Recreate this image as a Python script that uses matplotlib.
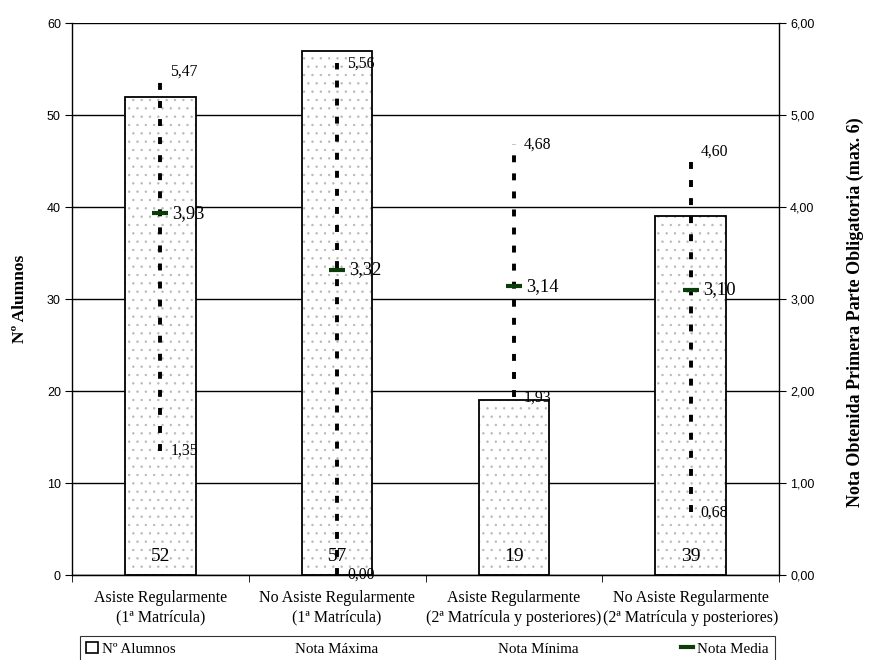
import matplotlib
matplotlib.use("Agg")
import matplotlib.pyplot as plt
from matplotlib.patches import Patch
from matplotlib.lines import Line2D
from matplotlib.ticker import FuncFormatter, FixedLocator

categories = ["Asiste Regularmente\n(1ª Matrícula)",
              "No Asiste Regularmente\n(1ª Matrícula)",
              "Asiste Regularmente\n(2ª Matrícula y posteriores)",
              "No Asiste Regularmente\n(2ª Matrícula y posteriores)"]
alumnos = [52, 57, 19, 39]
nota_max = [5.47, 5.56, 4.68, 4.60]
nota_min = [1.35, 0.00, 1.93, 0.68]
nota_media = [3.93, 3.32, 3.14, 3.10]

SERIF = ["Liberation Serif", "DejaVu Serif"]
SANS = ["Liberation Sans", "DejaVu Sans"]
plt.rcParams["font.family"] = SERIF
plt.rcParams["hatch.color"] = "#b3b3b3"
plt.rcParams["hatch.linewidth"] = 0.5
plt.rcParams["lines.scale_dashes"] = False

def comma(v, nd):
    return f"{v:.{nd}f}".replace(".", ",")

fig = plt.figure(figsize=(8.75, 6.6), dpi=100)
ax = fig.add_axes([72/875, 1-575/660, (779-72)/875, (575-23)/660])
ax2 = ax.twinx()

x = list(range(len(categories)))
ax.set_xlim(-0.5, len(categories) - 0.5)
ax.set_ylim(0, 60)
ax2.set_ylim(0, 6)

ax.set_yticks(range(0, 61, 10))
ax.yaxis.grid(True, color="black", linewidth=1.0)
ax.set_axisbelow(True)
# hatched fill (grey dots) + black outline
ax.bar(x, alumnos, width=0.4, color="white", edgecolor="#b8b8b8", linewidth=0,
       hatch="..", zorder=2)
ax.bar(x, alumnos, width=0.4, fill=False, edgecolor="black", linewidth=1.3,
       zorder=2.1)
for xi, n in zip(x, alumnos):
    ax.text(xi, 2.0, str(n), ha="center", va="center", fontsize=14, zorder=5)

# min-max dashed lines and labels (right axis)
for xi, hi, lo in zip(x, nota_max, nota_min):
    ax2.plot([xi, xi], [lo, hi], color="black", linewidth=2.8,
             linestyle=(0, (5.0, 8.0)), dash_capstyle="butt", zorder=3)
    ax2.annotate(comma(hi, 2), (xi, hi), xytext=(10, 0), textcoords="offset pixels",
                 ha="left", va="center", fontsize=11.3, zorder=5)
    ax2.annotate(comma(lo, 2), (xi, lo), xytext=(10, 0), textcoords="offset pixels",
                 ha="left", va="center", fontsize=11.3, zorder=5)
ax2.plot(x, nota_media, linestyle="none", marker="_", markersize=11,
         markeredgewidth=3, color="#0b3d0b", zorder=4)
for xi, m in zip(x, nota_media):
    ax2.annotate(comma(m, 2), (xi, m), xytext=(12, 0), textcoords="offset pixels",
                 ha="left", va="center", fontsize=13.3, zorder=5)

# axes styling
for a in (ax, ax2):
    a.spines["top"].set_visible(False)
ax.spines["right"].set_visible(False)
ax2.spines["left"].set_visible(False)
ax.spines["left"].set_linewidth(1.0)
ax2.spines["right"].set_linewidth(1.0)
ax.spines["bottom"].set_linewidth(1.0)

ax.set_xticks(x)
ax.set_xticklabels(categories, fontsize=11.5, linespacing=1.3)
ax.tick_params(axis="x", which="major", length=0, pad=11)
ax.xaxis.set_minor_locator(FixedLocator([i - 0.5 for i in range(len(categories) + 1)]))
ax.tick_params(axis="x", which="minor", length=5, direction="out", color="black")
ax.tick_params(axis="y", length=5, direction="out", labelsize=9, pad=3)
for lbl in ax.get_yticklabels():
    lbl.set_fontfamily(SANS)

ax2.set_yticks([0, 1, 2, 3, 4, 5, 6])
ax2.yaxis.set_major_formatter(FuncFormatter(lambda v, p: comma(v, 2)))
ax2.tick_params(axis="y", length=5, direction="out", labelsize=9, pad=3)
for lbl in ax2.get_yticklabels():
    lbl.set_fontfamily(SANS)

fig.text(20/875, 1-299/660, "Nº Alumnos", rotation=90, ha="center", va="center",
         fontsize=12.5, fontweight="bold")
fig.text(855/875, 1-312/660, "Nota Obtenida Primera Parte Obligatoria (max. 6)",
         rotation=90, ha="center", va="center", fontsize=13, fontweight="bold")

handles = [Patch(facecolor="white", edgecolor="black", linewidth=1.2),
           Line2D([], [], color="white", linewidth=0),
           Line2D([], [], color="white", linewidth=0),
           Line2D([], [], color="#0b3d0b", linewidth=3)]
labels = ["Nº Alumnos", "Nota Máxima", "Nota Mínima", "Nota Media"]
leg = fig.legend(handles, labels, loc="upper left", ncol=4, mode="expand",
                 bbox_to_anchor=(80/875, 0.0, 695/875, 1-636/660),
                 borderaxespad=0, fontsize=10.8, frameon=True, fancybox=False,
                 handlelength=0.8, handleheight=0.8, handletextpad=0.3,
                 borderpad=0.4)
leg.get_frame().set_edgecolor("black")
leg.get_frame().set_linewidth(0.8)

fig.savefig("out.png", dpi=100)
